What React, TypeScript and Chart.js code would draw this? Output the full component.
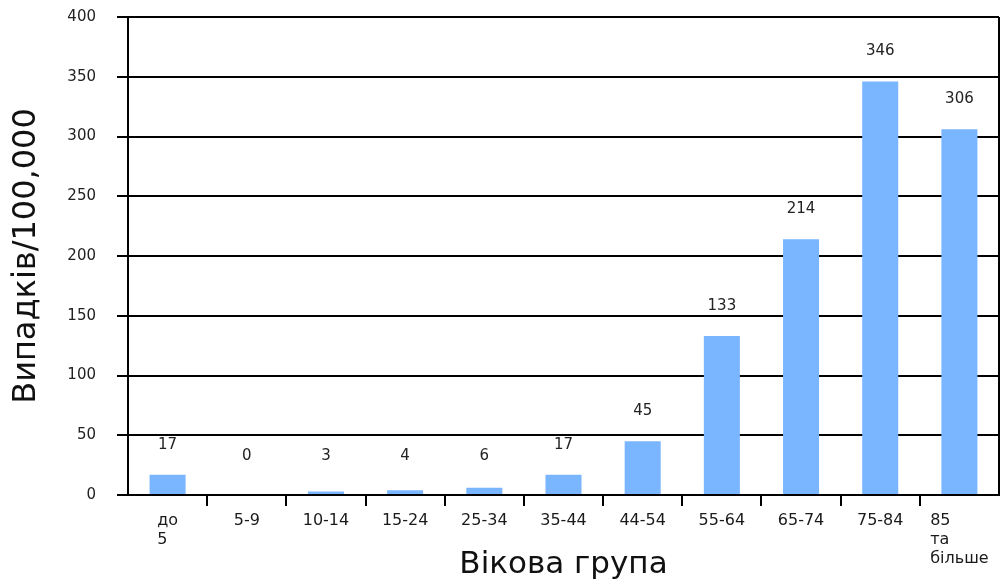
import React, { useEffect, useRef } from "react";
import { Chart, registerables } from "chart.js";

Chart.register(...registerables);

const ageGroups: string[][] = [
  ["до", "5"],
  ["5-9"],
  ["10-14"],
  ["15-24"],
  ["25-34"],
  ["35-44"],
  ["44-54"],
  ["55-64"],
  ["65-74"],
  ["75-84"],
  ["85", "та", "більше"],
];

const casesPer100k: number[] = [17, 0, 3, 4, 6, 17, 45, 133, 214, 346, 306];

const yTicks: number[] = [0, 50, 100, 150, 200, 250, 300, 350, 400];

const FONT = "'DejaVu Sans', sans-serif";

// Multi-line category labels, each block centred under its bar with lines left-aligned
const categoryLabels = {
  id: "categoryLabels",
  afterDraw(chart: any) {
    const { ctx } = chart;
    const x = chart.scales.x;
    ctx.save();
    ctx.font = `16px ${FONT}`;
    ctx.fillStyle = "#1a1a1a";
    ctx.textBaseline = "middle";
    ctx.textAlign = "left";
    const lineH = 19;
    ageGroups.forEach((lines, i) => {
      const px = x.getPixelForTick(i);
      const w = Math.max(...lines.map((l) => ctx.measureText(l).width));
      const left = px - w / 2;
      lines.forEach((l, j) => {
        ctx.fillText(l, left, x.top + 26 + j * lineH);
      });
    });
    ctx.restore();
  },
};

// Value labels above the bars and the right-hand frame line
const valueLabels = {
  id: "valueLabels",
  afterDatasetsDraw(chart: any) {
    const { ctx, chartArea } = chart;
    const meta = chart.getDatasetMeta(0);
    const base = chart.scales.y.getPixelForValue(0);
    ctx.save();
    ctx.strokeStyle = "#000";
    ctx.lineWidth = 2;
    ctx.beginPath();
    ctx.moveTo(chartArea.right, chartArea.top);
    ctx.lineTo(chartArea.right, chartArea.bottom);
    ctx.stroke();
    ctx.font = `15px ${FONT}`;
    ctx.fillStyle = "#222";
    ctx.textAlign = "center";
    ctx.textBaseline = "middle";
    meta.data.forEach((bar: any, i: number) => {
      const y = Math.min(bar.y - 30, base - 39);
      ctx.fillText(String(casesPer100k[i]), bar.x, y);
    });
    ctx.restore();
  },
};

export default function App() {
  const canvasRef = useRef<HTMLCanvasElement | null>(null);

  useEffect(() => {
    document.body.style.margin = "0";
    const canvas = canvasRef.current;
    if (!canvas) return;
    const chart = new Chart(canvas, {
      type: "bar",
      data: {
        labels: ageGroups.map((l) => l.join(" ")),
        datasets: [
          {
            data: casesPer100k,
            backgroundColor: "#79b6ff",
            borderWidth: 0,
            barPercentage: 0.455,
            categoryPercentage: 1,
          },
        ],
      },
      options: {
        responsive: false,
        animation: false,
        maintainAspectRatio: false,
        layout: { padding: { top: 17, right: 3, bottom: 0, left: 0 } },
        plugins: {
          legend: { display: false },
          tooltip: { enabled: false },
        },
        scales: {
          x: {
            offset: true,
            grid: {
              offset: true,
              drawOnChartArea: false,
              drawTicks: true,
              tickLength: 11,
              lineWidth: 2,
              color: (c: any) =>
                c.type !== "tick" || !c.index ? "rgba(0,0,0,0)" : "#000",
            },
            border: { display: true, color: "#000", width: 2 },
            ticks: { display: false },
            title: {
              display: true,
              text: "Вікова група",
              color: "#111",
              font: { family: FONT, size: 31 },
              padding: { top: 0, bottom: 4 },
            },
            afterFit: (s: any) => {
              s.height = 93;
              s.paddingLeft = 0;
              s.paddingRight = 0;
            },
          },
          y: {
            min: 0,
            max: 400,
            afterBuildTicks: (s: any) => {
              s.ticks = yTicks.map((v) => ({ value: v }));
            },
            grid: {
              color: "#000",
              lineWidth: 2,
              tickLength: 11,
              drawTicks: true,
            },
            border: { display: true, color: "#000", width: 2 },
            ticks: {
              padding: 21,
              color: "#222",
              font: { family: FONT, size: 15 },
            },
            title: {
              display: true,
              text: "Випадків/100,000",
              color: "#111",
              font: { family: FONT, size: 32 },
              padding: { top: 7, bottom: 0 },
            },
            afterFit: (s: any) => {
              s.width = 128;
              s.paddingTop = 0;
              s.paddingBottom = 0;
            },
          },
        },
      },
      plugins: [categoryLabels, valueLabels],
    });
    return () => chart.destroy();
  }, []);

  return (
    <div style={{ width: 1002, height: 588, background: "#fff" }}>
      <canvas ref={canvasRef} width={1002} height={588} style={{ display: "block" }} />
    </div>
  );
}
